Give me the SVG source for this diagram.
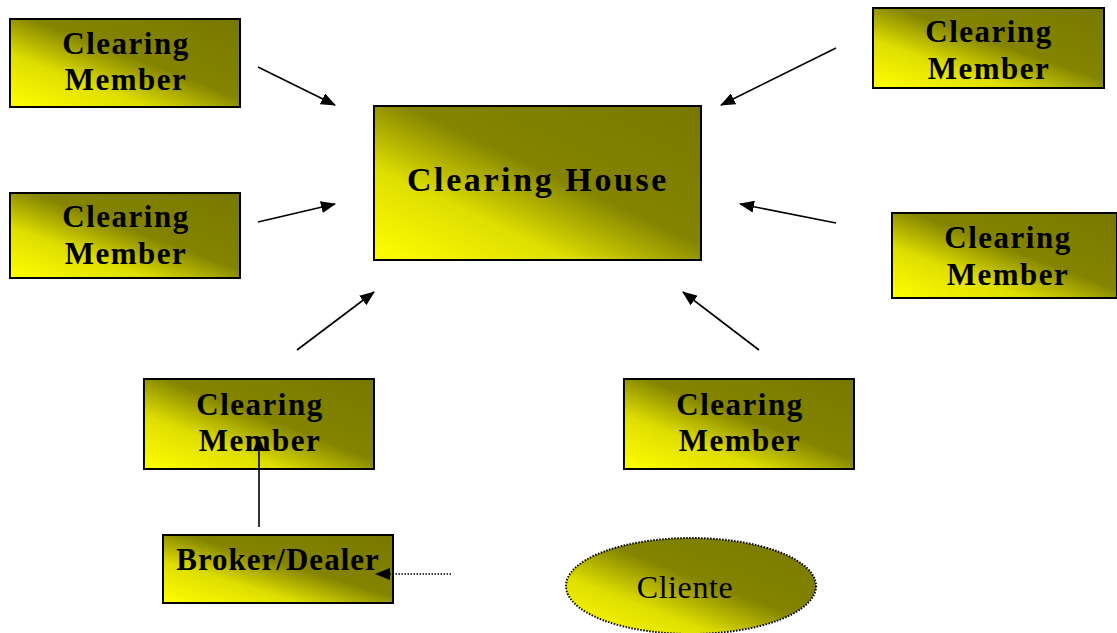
<svg xmlns="http://www.w3.org/2000/svg" width="1117" height="633" viewBox="0 0 1117 633">
<defs>
<linearGradient id="g" x1="0" y1="1" x2="1" y2="0">
<stop offset="0" stop-color="#ffff00"/>
<stop offset="0.3" stop-color="#dede00"/>
<stop offset="0.55" stop-color="#848400"/>
<stop offset="1" stop-color="#787800"/>
</linearGradient>
<marker id="ah" markerUnits="userSpaceOnUse" markerWidth="15" markerHeight="12" refX="14" refY="6" orient="auto">
<path d="M0,0 L15,6 L0,12 Z" fill="#000"/>
</marker>
</defs>
<style>
.box{fill:url(#g);stroke:#000;stroke-width:2}
.t{font-family:"Liberation Serif","Times New Roman",serif;font-weight:bold;font-size:31px;letter-spacing:1.5px;text-anchor:middle;fill:#000}
.big{font-size:34px;letter-spacing:2.6px}
.reg{font-family:"Liberation Serif","Times New Roman",serif;font-size:32px;letter-spacing:0.6px;text-anchor:middle;fill:#000}
.c{stroke:#000;stroke-width:1.6;fill:none;marker-end:url(#ah)}
.d{stroke-dasharray:1.5 1.5}
</style>
<rect width="1117" height="633" fill="#fff"/>
<g id="cm-tl"><rect class="box" x="10" y="19" width="230" height="88"/><text class="t" x="126" y="54">Clearing</text><text class="t" x="126" y="90">Member</text></g>
<g id="cm-ml"><rect class="box" x="10" y="193" width="230" height="85"/><text class="t" x="126" y="227">Clearing</text><text class="t" x="126" y="264">Member</text></g>
<g id="clearing-house"><rect class="box" x="374" y="106" width="327" height="154"/><text class="t big" x="538" y="191">Clearing House</text></g>
<g id="cm-tr"><rect class="box" x="873" y="8" width="231" height="80"/><text class="t" x="989" y="42">Clearing</text><text class="t" x="989" y="79">Member</text></g>
<g id="cm-mr"><rect class="box" x="892" y="213" width="225" height="85"/><text class="t" x="1008" y="248">Clearing</text><text class="t" x="1008" y="285">Member</text></g>
<g id="cm-bl"><rect class="box" x="144" y="379" width="230" height="90"/><text class="t" x="260" y="415">Clearing</text><text class="t" x="260" y="451">Member</text></g>
<g id="cm-br"><rect class="box" x="624" y="379" width="230" height="90"/><text class="t" x="740" y="415">Clearing</text><text class="t" x="740" y="451">Member</text></g>
<g id="broker"><rect class="box" x="163" y="535" width="230" height="68"/><text class="t" x="278" y="570" style="letter-spacing:1px">Broker/Dealer</text></g>
<g id="cliente"><ellipse cx="691" cy="586" rx="125" ry="48" fill="url(#g)" stroke="#000" stroke-width="2" stroke-dasharray="1.5 1.5"/><text class="reg" x="685" y="598">Cliente</text></g>
<g id="connectors">
<line class="c" x1="258" y1="67" x2="335" y2="105"/>
<line class="c" x1="258" y1="222" x2="335" y2="204"/>
<line class="c" x1="836" y1="48" x2="721" y2="105"/>
<line class="c" x1="836" y1="223" x2="740" y2="204"/>
<line class="c" x1="297" y1="350" x2="374" y2="292"/>
<line class="c" x1="759" y1="350" x2="683" y2="292"/>
<line class="c" x1="259" y1="527" x2="259" y2="437"/>
<line class="c d" x1="451" y1="574" x2="376" y2="574"/>
</g>
</svg>
